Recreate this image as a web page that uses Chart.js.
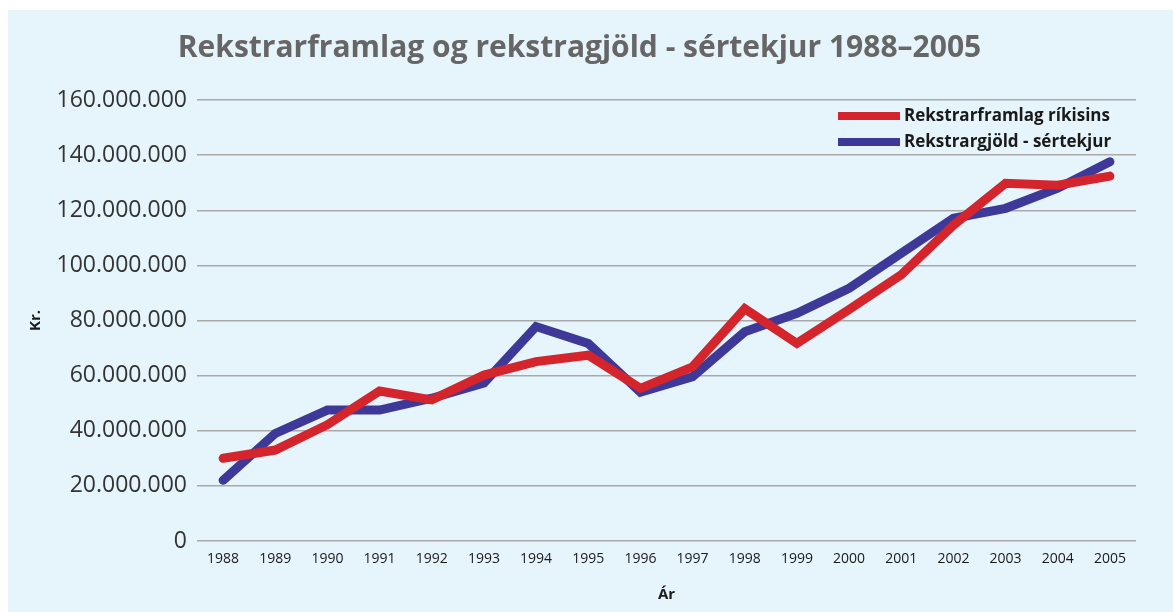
<!DOCTYPE html>
<html>
<head>
<meta charset="utf-8">
<script src="https://cdn.jsdelivr.net/npm/chart.js@4/dist/chart.umd.min.js"></script>
<style>
  html, body { margin: 0; padding: 0; background: #ffffff; }
  #wrap { position: absolute; left: 8px; top: 10px; width: 1165px; height: 602px; background: #e6f4fc; }
</style>
</head>
<body>
<div id="wrap"><canvas id="chart" width="1165" height="602"></canvas></div>
<script>
const years = ['1988', '1989', '1990', '1991', '1992', '1993', '1994', '1995', '1996',
  '1997', '1998', '1999', '2000', '2001', '2002', '2003', '2004', '2005']
const framlag = [30.0, 33.0, 42.2, 54.4, 51.2, 60.2, 65.1, 67.4, 55.4,
  63.2, 84.3, 71.7, 84.0, 96.6, 114.6, 129.8, 129.1, 132.4].map(v => v * 1e6)
const gjold = [22.0, 39.0, 47.5, 47.5, 51.8, 57.3, 77.8, 71.7, 54.0,
  59.6, 75.9, 82.6, 91.7, 104.4, 117.1, 120.7, 128.0, 137.6].map(v => v * 1e6)
const yTicks = [0, 20e6, 40e6, 60e6, 80e6, 100e6, 120e6, 140e6, 160e6]

const fmt = v => v === 0 ? '0' : String(v).replace(/\B(?=(\d{3})+(?!\d))/g, '.')

// legend drawn inside the plot, top right, stacked
const insideLegend = {
  id: 'insideLegend',
  afterDraw (chart) {
    const ctx = chart.ctx
    const x = chart.chartArea.right - 298
    let y = chart.chartArea.top + 16
    ctx.save()
    ctx.font = 'bold 17px "Open Sans"'
    ctx.textBaseline = 'middle'
    chart.data.datasets.forEach(ds => {
      ctx.fillStyle = ds.borderColor
      ctx.fillRect(x, y - 4, 62, 8)
      ctx.fillStyle = '#1a1a1a'
      ctx.fillText(ds.label, x + 66, y)
      y += 26
    })
    ctx.restore()
  }
}

new Chart(document.getElementById('chart'), {
  type: 'line',
  data: {
    labels: years,
    datasets: [
      {
        label: 'Rekstrarframlag ríkisins',
        data: framlag,
        borderColor: '#d4252c',
        borderWidth: 9,
        pointRadius: 0,
        borderCapStyle: 'round',
        tension: 0
      },
      {
        label: 'Rekstrargjöld - sértekjur',
        data: gjold,
        borderColor: '#3e3998',
        borderWidth: 9,
        pointRadius: 0,
        borderCapStyle: 'round',
        tension: 0
      }
    ]
  },
  options: {
    responsive: false,
    animation: false,
    layout: { padding: { left: 15, right: 37, top: 0, bottom: 0 } },
    plugins: {
      legend: { display: false },
      tooltip: { enabled: false },
      title: {
        display: true,
        text: 'Rekstrarframlag og rekstragjöld - sértekjur 1988–2005',
        color: '#666666',
        font: { family: '"Open Sans"', size: 30, weight: 'bold' },
        padding: { top: 20, bottom: 34 }
      }
    },
    scales: {
      x: {
        offset: true,
        grid: { display: false },
        border: { display: false },
        ticks: { color: '#1a1a1a', font: { family: '"Open Sans"', size: 14 }, maxRotation: 0, autoSkip: false, padding: 2 },
        title: { display: true, text: 'Ár', color: '#1a1a1a', font: { family: '"Open Sans"', size: 15, weight: 'bold' }, padding: { top: 2, bottom: 8 } },
        afterFit: s => { s.height = 71 }
      },
      y: {
        min: 0,
        max: 160e6,
        afterBuildTicks: s => { s.ticks = yTicks.map(v => ({ value: v })) },
        grid: { color: '#a9a9a9', lineWidth: 1.5, drawTicks: true, tickLength: 0 },
        border: { display: false },
        ticks: { color: '#333333', font: { family: '"Open Sans"', size: 23 }, padding: 10, callback: v => fmt(v) },
        title: { display: true, text: 'Kr.', color: '#1a1a1a', font: { family: '"Open Sans"', size: 15, weight: 'bold' }, padding: { bottom: 0 } },
        afterFit: s => { s.width = 174 }
      }
    }
  },
  plugins: [insideLegend]
})
</script>
</body>
</html>
